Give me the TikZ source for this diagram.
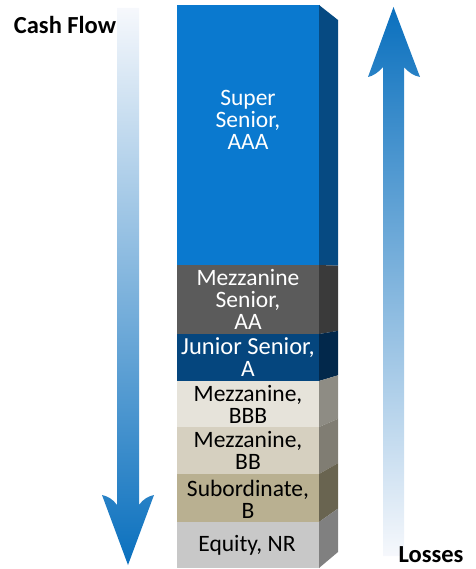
\documentclass[tikz,border=0pt]{standalone}
\usepackage{fontspec}
\setmainfont{Carlito}
\definecolor{ssF}{RGB}{10,121,207}
\definecolor{ssS}{RGB}{6,74,130}
\definecolor{msF}{RGB}{91,91,91}
\definecolor{msS}{RGB}{58,58,58}
\definecolor{jsF}{RGB}{5,70,126}
\definecolor{jsS}{RGB}{2,40,75}
\definecolor{bbbF}{RGB}{230,227,218}
\definecolor{bbbS}{RGB}{142,140,132}
\definecolor{bbF}{RGB}{214,208,192}
\definecolor{bbS}{RGB}{128,125,115}
\definecolor{subF}{RGB}{185,176,145}
\definecolor{subS}{RGB}{105,100,80}
\definecolor{eqF}{RGB}{200,200,200}
\definecolor{eqS}{RGB}{128,128,128}
\definecolor{arrBlue}{RGB}{10,112,190}
\definecolor{arrMid}{RGB}{140,168,216}
\definecolor{arrPale}{RGB}{246,248,252}
\begin{document}
\begin{tikzpicture}[x=1pt,y=-1pt,
  lbl/.style={align=center,inner sep=0pt,font=\fontsize{23.5}{22}\selectfont},
  head/.style={inner sep=0pt,font=\fontsize{24.5}{24}\selectfont\bfseries,text=black}]
\useasboundingbox (0,0) rectangle (475,569);
% layers: front y-range, side y-range, colours
\foreach \a/\b/\fa/\fb/\fc/\sc in {
  5/265/20/265.7/ssF/ssS,
  265/334/265.7/330.9/msF/msS,
  334/381/330.9/375.3/jsF/jsS,
  381/427/375.3/418.8/bbbF/bbbS,
  427/474/418.8/463.2/bbF/bbS,
  474/522/463.2/508.6/subF/subS,
  522/568/508.6/552/eqF/eqS}{
  \fill[\fc] (177,\a) rectangle (319.5,\b);
  \fill[\sc] (319,\a) -- (338,\fa) -- (338,\fb) -- (319,\b) -- cycle;
}
% labels
\node[lbl,text=white] (ss) at (248,120) {Super\\Senior,\\AAA};
\node[lbl,text=white] (ms) at (248,299) {Mezzanine\\Senior,\\AA};
\node[lbl,text=white] (js) at (248,357) {{\fontsize{24.5}{22}\selectfont Junior Senior,}\\A};
\node[lbl,text=black] (bbb) at (248,404) {Mezzanine,\\BBB};
\node[lbl,text=black] (bb) at (248,450) {Mezzanine,\\BB};
\node[lbl,text=black] (sub) at (248,499) {Subordinate,\\B};
\node[lbl,text=black] (eq) at (247,545) {Equity, NR};
% cash flow arrow (down)
\shade[top color=arrPale,middle color=arrMid,bottom color=arrBlue]
  (117,8) -- (117,505) .. controls (113,499) and (107,496) .. (102,495)
  -- (128,565) -- (154,495) .. controls (149,496) and (143,499) .. (139,505)
  -- (139,8) -- cycle;
% losses arrow (up)
\shade[top color=arrBlue,middle color=arrMid,bottom color=arrPale]
  (383,556) -- (383,67) .. controls (379,72) and (373,76) .. (368,77)
  -- (393.5,7) -- (420,77) .. controls (414,76) and (408,72) .. (404,67)
  -- (404,556) -- cycle;
\node[head,anchor=base] (cf) at (65,34) {Cash Flow};
\node[head,anchor=base] (ls) at (431,562) {Losses};
\end{tikzpicture}
\end{document}
